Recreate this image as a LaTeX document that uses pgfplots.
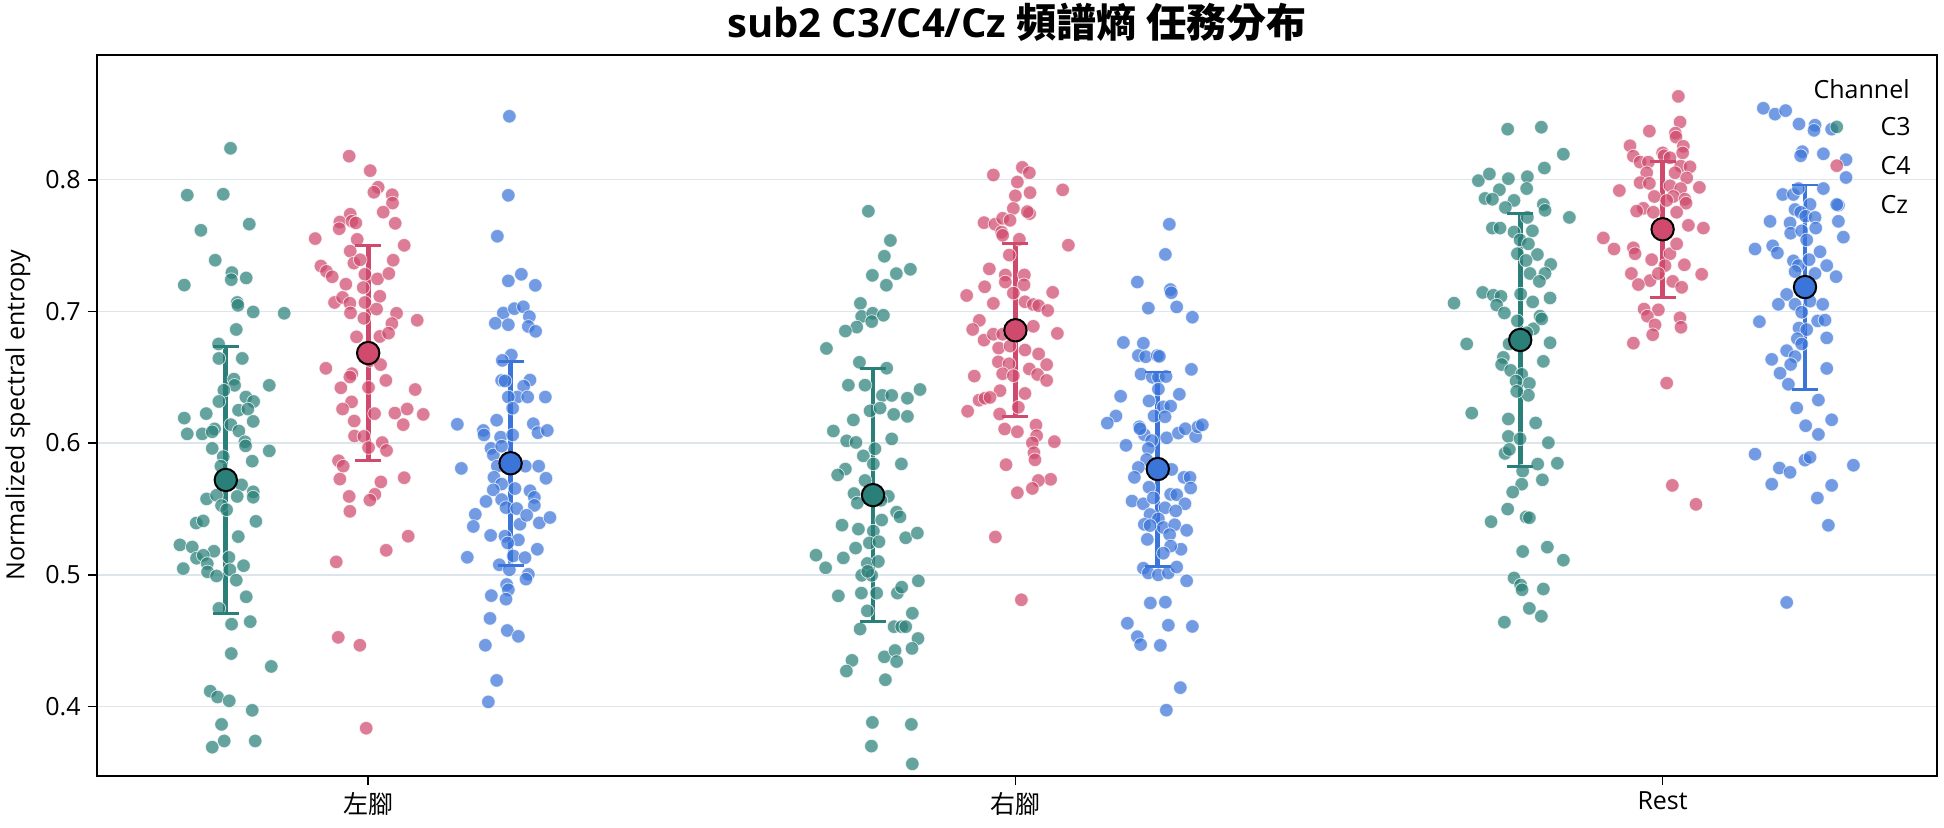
\documentclass[border=0pt]{standalone}
\usepackage{fontspec}
\setmainfont{Open Sans}
\newfontfamily\cjk{Noto Sans CJK TC}
\usepackage{pgfplots}
\pgfplotsset{compat=1.18}
\definecolor{cC3}{HTML}{2A7F78}
\definecolor{cC4}{HTML}{CF4A6D}
\definecolor{cCz}{HTML}{3B75D9}
\definecolor{gridc}{HTML}{DCE4EC}
\newcommand{\fs}{\fontsize{12.5}{15}\selectfont}
\pgfplotsset{
  pts/.style={only marks, mark=*, mark size=3.4pt, forget plot,
    mark options={fill=#1, draw=white, line width=0.4pt, opacity=0.72}},
  bar/.style={#1, line width=2.4pt, forget plot, unbounded coords=jump},
  cap/.style={only marks, mark=-, mark size=6.5pt, forget plot, mark options={draw=#1, line width=1.3pt}},
  mn/.style={only marks, mark=*, mark size=5.6pt, forget plot,
    mark options={fill=#1, draw=black, line width=1pt}},
}
\begin{document}
\begin{tikzpicture}
\begin{axis}[
  name=ax, scale only axis, width=919.9pt, height=360.75pt,
  xmin=-0.4195, xmax=2.4232, ymin=0.3472, ymax=0.8951,
  xtick={0,1,2}, xticklabels={{\cjk 左腳},{\cjk 右腳},Rest},
  ytick={0.4,0.5,0.6,0.7,0.8},
  yticklabel style={/pgf/number format/fixed, /pgf/number format/precision=1, /pgf/number format/assume math mode=true},
  tick label style={font=\fs},
  tick pos=left, tick align=outside, major tick length=4.5pt,
  tick style={black, line width=0.8pt},
  axis line style={black, line width=1pt},
  ymajorgrids, grid style={gridc, line width=0.75pt},
  ylabel={Normalized spectral entropy},
  every axis y label/.style={at={(rel axis cs:0,0.5)}, xshift=-39.35pt, rotate=90, anchor=center, font=\fs},
  legend style={at={(rel axis cs:1,1)}, anchor=north east, xshift=-10.75pt, yshift=-29.5pt,
    draw=none, fill=none, inner sep=0pt, font=\fs, row sep=6.4pt,
    nodes={text height=9pt, text depth=0pt, inner sep=2pt},
    /tikz/every odd column/.append style={column sep=16.5pt}},
  legend cell align=left,
]
% ---- C3 ----
\addplot[pts=cC3] coordinates {
(-0.2127,0.8239) (-0.2796,0.7883) (-0.2240,0.7890) (-0.2585,0.7616) (-0.1838,0.7663) (-0.2364,0.7389) (-0.2842,0.7200) (-0.2106,0.7295) (-0.2116,0.7241) (-0.1885,0.7254) (-0.2024,0.7068) (-0.2013,0.7046) (-0.1777,0.6996) (-0.1298,0.6986) (-0.2039,0.6863) (-0.2312,0.6753) (-0.2307,0.6643) (-0.1946,0.6643) (-0.2075,0.6486) (-0.2065,0.6439) (-0.1529,0.6439) (-0.2230,0.6401) (-0.1890,0.6350) (-0.1771,0.6316) (-0.2307,0.6316) (-0.2003,0.6250) (-0.1859,0.6259) (-0.2503,0.6224) (-0.2842,0.6190) (-0.1777,0.6165) (-0.2122,0.6140) (-0.2796,0.6070) (-0.2564,0.6070) (-0.2374,0.6108) (-0.2410,0.6086) (-0.1998,0.6092) (-0.1905,0.6010) (-0.1895,0.5979) (-0.2410,0.5960) (-0.2240,0.5897) (-0.1529,0.5941) (-0.1792,0.5863) (-0.2276,0.5825) (-0.1957,0.5683) (-0.1777,0.5630) (-0.2497,0.5576) (-0.2343,0.5604) (-0.2266,0.5526) (-0.2024,0.5595) (-0.1777,0.5589) (-0.2188,0.5494) (-0.2657,0.5393) (-0.2549,0.5409) (-0.1735,0.5406) (-0.2008,0.5290) (-0.2909,0.5227) (-0.2719,0.5211) (-0.2384,0.5179) (-0.2652,0.5126) (-0.2549,0.5148) (-0.2152,0.5132) (-0.2487,0.5085) (-0.1926,0.5069) (-0.2858,0.5047) (-0.2482,0.5022) (-0.2343,0.4991) (-0.2137,0.5038) (-0.2039,0.4959) (-0.2307,0.4745) (-0.1885,0.4833) (-0.2111,0.4625) (-0.1823,0.4644) (-0.2116,0.4402) (-0.1498,0.4304) (-0.2441,0.4116) (-0.2327,0.4072) (-0.2147,0.4043) (-0.1792,0.3971) (-0.2266,0.3864) (-0.2225,0.3738) (-0.1746,0.3738) (-0.2410,0.3691)
};
\addplot[pts=cC3] coordinates {
(0.7728,0.7761) (0.8068,0.7539) (0.7975,0.7419) (0.7790,0.7274) (0.8160,0.7287) (0.8377,0.7320) (0.8006,0.7199) (0.7605,0.7061) (0.7625,0.6962) (0.7795,0.6986) (0.7960,0.6971) (0.7780,0.6923) (0.7548,0.6881) (0.7373,0.6851) (0.7080,0.6719) (0.7590,0.6614) (0.8011,0.6569) (0.7419,0.6440) (0.7676,0.6440) (0.8526,0.6407) (0.7945,0.6362) (0.8089,0.6362) (0.8331,0.6341) (0.7754,0.6245) (0.7909,0.6266) (0.8120,0.6218) (0.8331,0.6203) (0.7496,0.6176) (0.7187,0.6092) (0.7393,0.6017) (0.7537,0.6005) (0.7830,0.5957) (0.8089,0.6032) (0.7650,0.5903) (0.7805,0.5842) (0.8238,0.5842) (0.7373,0.5803) (0.7254,0.5758) (0.7676,0.5716) (0.7506,0.5617) (0.7557,0.5545) (0.8036,0.5596) (0.7923,0.5566) (0.8165,0.5476) (0.8217,0.5440) (0.7321,0.5377) (0.7574,0.5347) (0.7805,0.5332) (0.7934,0.5416) (0.8305,0.5281) (0.8485,0.5317) (0.7743,0.5242) (0.7892,0.5251) (0.7531,0.5203) (0.6919,0.5149) (0.7068,0.5053) (0.7341,0.5128) (0.7712,0.5086) (0.7882,0.5101) (0.7625,0.4996) (0.7780,0.4996) (0.7718,0.5026) (0.8500,0.4954) (0.7264,0.4840) (0.7620,0.4861) (0.7856,0.4861) (0.8176,0.4861) (0.8243,0.4906) (0.7712,0.4726) (0.8407,0.4708) (0.7600,0.4588) (0.8125,0.4606) (0.8243,0.4606) (0.8305,0.4606) (0.8495,0.4516) (0.8402,0.4441) (0.7975,0.4377) (0.8140,0.4425) (0.8165,0.4341) (0.7475,0.4350) (0.7388,0.4269) (0.7991,0.4203) (0.7790,0.3879) (0.8392,0.3864) (0.7775,0.3699) (0.8407,0.3564)
};
\addplot[pts=cC3] coordinates {
(1.7606,0.8384) (1.8126,0.8399) (1.8466,0.8194) (1.8173,0.8089) (1.7153,0.7993) (1.7323,0.8044) (1.7617,0.8008) (1.7910,0.8023) (1.7478,0.7924) (1.7900,0.7933) (1.7256,0.7858) (1.7370,0.7852) (1.7704,0.7843) (1.7570,0.7789) (1.8157,0.7813) (1.8183,0.7768) (1.8559,0.7714) (1.7910,0.7714) (1.7370,0.7633) (1.7488,0.7633) (1.7704,0.7603) (1.7988,0.7612) (1.7797,0.7543) (1.7926,0.7513) (1.8065,0.7432) (1.7756,0.7438) (1.7890,0.7387) (1.8271,0.7357) (1.7951,0.7288) (1.8183,0.7288) (1.8096,0.7228) (1.7220,0.7144) (1.7385,0.7123) (1.7503,0.7114) (1.7807,0.7132) (1.7993,0.7072) (1.8261,0.7102) (1.6777,0.7063) (1.7436,0.7048) (1.7555,0.6988) (1.8106,0.6964) (1.8003,0.6868) (1.8132,0.6943) (1.7756,0.6928) (1.7900,0.6838) (1.6973,0.6753) (1.7627,0.6753) (1.8261,0.6762) (1.7539,0.6651) (1.7513,0.6597) (1.8157,0.6621) (1.7653,0.6552) (1.7823,0.6522) (1.7735,0.6471) (1.7941,0.6453) (1.7926,0.6363) (1.7746,0.6393) (1.7051,0.6228) (1.7617,0.6183) (1.8039,0.6153) (1.7617,0.6051) (1.7797,0.6033) (1.8235,0.6003) (1.7565,0.5922) (1.7632,0.5952) (1.8070,0.5841) (1.8374,0.5847) (1.7838,0.5787) (1.8142,0.5721) (1.7823,0.5688) (1.7684,0.5628) (1.7606,0.5499) (1.7890,0.5439) (1.7941,0.5433) (1.7349,0.5403) (1.7838,0.5177) (1.8219,0.5210) (1.8466,0.5111) (1.7704,0.4976) (1.7807,0.4922) (1.7828,0.4886) (1.8157,0.4892) (1.7941,0.4745) (1.8126,0.4685) (1.7555,0.4640)
};
% ---- C4 ----
\addplot[pts=cC4] coordinates {
(-0.0294,0.8179) (0.0031,0.8069) (0.0154,0.7943) (0.0088,0.7905) (0.0371,0.7886) (0.0376,0.7823) (0.0232,0.7754) (0.0417,0.7669) (-0.0278,0.7738) (-0.0438,0.7679) (-0.0448,0.7628) (-0.0252,0.7685) (-0.0191,0.7672) (-0.0819,0.7553) (-0.0170,0.7547) (0.0556,0.7502) (-0.0278,0.7458) (-0.0221,0.7367) (-0.0124,0.7392) (0.0386,0.7389) (-0.0731,0.7345) (-0.0644,0.7304) (-0.0556,0.7263) (-0.0051,0.7282) (0.0144,0.7247) (0.0319,0.7288) (-0.0345,0.7207) (-0.0077,0.7181) (0.0180,0.7115) (-0.0520,0.7068) (-0.0396,0.7106) (-0.0283,0.7062) (-0.0273,0.6989) (-0.0051,0.7068) (0.0129,0.7018) (0.0438,0.6986) (0.0757,0.6933) (0.0366,0.6908) (-0.0067,0.6948) (-0.0180,0.6807) (0.0180,0.6810) (0.0314,0.6835) (-0.0654,0.6568) (-0.0252,0.6527) (-0.0283,0.6502) (0.0026,0.6627) (0.0191,0.6596) (0.0273,0.6476) (0.0726,0.6407) (-0.0422,0.6420) (0.0005,0.6423) (-0.0257,0.6313) (-0.0396,0.6259) (-0.0216,0.6168) (0.0098,0.6224) (0.0412,0.6228) (0.0602,0.6259) (0.0850,0.6218) (0.0541,0.6140) (-0.0211,0.6054) (-0.0067,0.6051) (0.0216,0.6004) (0.0283,0.5944) (0.0005,0.5966) (-0.0458,0.5866) (-0.0386,0.5825) (-0.0438,0.5727) (0.0196,0.5705) (0.0556,0.5737) (-0.0294,0.5595) (0.0103,0.5611) (0.0026,0.5567) (-0.0283,0.5482) (0.0618,0.5293) (0.0278,0.5186) (-0.0494,0.5098) (-0.0463,0.4525) (-0.0129,0.4465) (-0.0031,0.3835)
};
\addplot[pts=cC4] coordinates {
(0.9659,0.8036) (1.0107,0.8094) (1.0215,0.8053) (1.0030,0.7983) (1.0226,0.7902) (1.0730,0.7923) (0.9999,0.7878) (0.9968,0.7782) (1.0220,0.7743) (1.0184,0.7758) (0.9515,0.7674) (0.9685,0.7662) (0.9803,0.7707) (0.9917,0.7692) (0.9788,0.7602) (0.9803,0.7578) (1.0061,0.7548) (1.0818,0.7503) (0.9906,0.7428) (0.9597,0.7323) (0.9844,0.7277) (1.0138,0.7277) (0.9844,0.7223) (1.0133,0.7202) (0.9525,0.7187) (0.9968,0.7139) (1.0576,0.7145) (0.9247,0.7121) (0.9659,0.7061) (1.0148,0.7073) (1.0277,0.7052) (1.0359,0.7043) (1.0499,0.7007) (0.9443,0.6932) (0.9340,0.6863) (0.9515,0.6782) (0.9659,0.6827) (0.9803,0.6827) (0.9917,0.6857) (1.0087,0.6872) (1.0277,0.6887) (1.0648,0.6833) (0.9741,0.6722) (0.9917,0.6737) (1.0148,0.6707) (1.0359,0.6677) (1.0483,0.6596) (0.9736,0.6617) (0.9901,0.6602) (1.0215,0.6563) (0.9365,0.6509) (0.9803,0.6527) (0.9968,0.6512) (1.0343,0.6521) (1.0483,0.6476) (0.9762,0.6398) (1.0148,0.6377) (0.9438,0.6326) (0.9530,0.6341) (0.9608,0.6347) (0.9262,0.6242) (0.9757,0.6221) (1.0045,0.6272) (1.0318,0.6137) (0.9834,0.6107) (1.0030,0.6086) (1.0328,0.6056) (1.0602,0.6011) (1.0262,0.6002) (1.0287,0.5927) (1.0302,0.5873) (0.9855,0.5836) (1.0544,0.5725) (1.0354,0.5716) (1.0262,0.5656) (1.0030,0.5623) (0.9690,0.5287) (1.0092,0.4810)
};
\addplot[pts=cC4] coordinates {
(2.0243,0.8633) (2.0269,0.8438) (1.9795,0.8369) (2.0197,0.8354) (2.0207,0.8324) (1.9496,0.8258) (2.0320,0.8254) (2.0310,0.8204) (2.0001,0.8204) (1.9548,0.8179) (1.9651,0.8134) (1.9780,0.8134) (2.0022,0.8182) (2.0114,0.8167) (2.0279,0.8104) (2.0423,0.8098) (1.9754,0.8053) (2.0192,0.8053) (2.0372,0.8014) (1.9651,0.7978) (1.9795,0.7972) (2.0114,0.7954) (2.0279,0.7933) (2.0568,0.7942) (1.9331,0.7918) (1.9872,0.7873) (2.0166,0.7873) (2.0346,0.7852) (2.0063,0.7843) (2.0362,0.7822) (1.9702,0.7783) (1.9599,0.7762) (1.9857,0.7753) (2.0217,0.7753) (2.0398,0.7654) (2.0630,0.7633) (1.9084,0.7558) (1.9249,0.7474) (1.9548,0.7483) (1.9574,0.7438) (1.9831,0.7393) (2.0114,0.7438) (2.0217,0.7513) (2.0037,0.7348) (2.0336,0.7354) (2.0604,0.7282) (1.9517,0.7288) (1.9805,0.7234) (1.9625,0.7204) (2.0156,0.7228) (2.0295,0.7183) (1.9934,0.7288) (1.9713,0.7018) (1.9934,0.7012) (1.9764,0.6964) (2.0269,0.6952) (1.9883,0.6898) (2.0284,0.6880) (1.9847,0.6823) (1.9548,0.6759) (2.0063,0.6456) (2.0150,0.5679) (2.0516,0.5535)
};
% ---- Cz ----
\addplot[pts=cCz] coordinates {
(0.2181,0.8482) (0.2165,0.7882) (0.1995,0.7571) (0.2165,0.7232) (0.2366,0.7282) (0.2582,0.7198) (0.2088,0.6988) (0.2258,0.7021) (0.2397,0.7035) (0.2490,0.6960) (0.1964,0.6910) (0.2165,0.6899) (0.2474,0.6886) (0.2587,0.6849) (0.2211,0.6669) (0.2072,0.6628) (0.2062,0.6476) (0.2113,0.6472) (0.2500,0.6479) (0.2402,0.6432) (0.2304,0.6350) (0.2165,0.6350) (0.2464,0.6350) (0.2737,0.6350) (0.2232,0.6265) (0.1985,0.6174) (0.2551,0.6147) (0.1377,0.6143) (0.1779,0.6096) (0.1789,0.6062) (0.2046,0.6045) (0.2232,0.6062) (0.2623,0.6079) (0.2767,0.6096) (0.1897,0.5960) (0.1933,0.5910) (0.2062,0.5977) (0.1439,0.5808) (0.1995,0.5825) (0.2428,0.5825) (0.2634,0.5825) (0.2747,0.5733) (0.1943,0.5740) (0.2062,0.5689) (0.2268,0.5655) (0.1933,0.5645) (0.2500,0.5638) (0.2567,0.5588) (0.1820,0.5557) (0.2062,0.5571) (0.2129,0.5510) (0.2294,0.5503) (0.2567,0.5527) (0.1655,0.5459) (0.1624,0.5367) (0.2345,0.5384) (0.2448,0.5452) (0.2644,0.5394) (0.2809,0.5435) (0.1892,0.5299) (0.2113,0.5293) (0.2320,0.5265) (0.2155,0.5242) (0.2613,0.5194) (0.1531,0.5133) (0.2242,0.5143) (0.2423,0.5130) (0.2026,0.5076) (0.2181,0.5038) (0.2474,0.5004) (0.2438,0.4967) (0.2139,0.4926) (0.2165,0.4886) (0.1902,0.4842) (0.2129,0.4815) (0.1882,0.4669) (0.2149,0.4577) (0.2320,0.4533) (0.1810,0.4465) (0.1985,0.4198) (0.1856,0.4035)
};
\addplot[pts=cCz] coordinates {
(1.2378,0.7662) (1.2317,0.7433) (1.1884,0.7223) (1.2394,0.7166) (1.2409,0.7142) (1.2054,0.7025) (1.2492,0.7034) (1.2734,0.6956) (1.1668,0.6764) (1.1977,0.6758) (1.1900,0.6665) (1.2013,0.6656) (1.2193,0.6665) (1.2224,0.6659) (1.2719,0.6560) (1.1941,0.6524) (1.2116,0.6500) (1.2209,0.6500) (1.2327,0.6506) (1.2209,0.6410) (1.2533,0.6371) (1.1626,0.6356) (1.2064,0.6320) (1.2286,0.6275) (1.2399,0.6281) (1.2142,0.6206) (1.2312,0.6200) (1.1554,0.6206) (1.1420,0.6152) (1.1915,0.6124) (1.1992,0.6064) (1.1925,0.6109) (1.2106,0.6019) (1.2337,0.6040) (1.2518,0.6076) (1.2626,0.6109) (1.2785,0.6049) (1.2821,0.6124) (1.2888,0.6139) (1.1709,0.5983) (1.2054,0.5959) (1.2028,0.5875) (1.1900,0.5815) (1.2415,0.5800) (1.1838,0.5740) (1.2064,0.5665) (1.2605,0.5740) (1.2698,0.5740) (1.2708,0.5659) (1.1802,0.5560) (1.1977,0.5539) (1.2131,0.5584) (1.2399,0.5611) (1.2492,0.5608) (1.2312,0.5509) (1.2620,0.5539) (1.2477,0.5485) (1.2080,0.5458) (1.2209,0.5425) (1.1992,0.5383) (1.2080,0.5374) (1.2286,0.5359) (1.2461,0.5380) (1.2646,0.5338) (1.2038,0.5269) (1.2383,0.5305) (1.2559,0.5194) (1.2399,0.5218) (1.2286,0.5164) (1.1977,0.5050) (1.2054,0.5014) (1.2209,0.4999) (1.2363,0.5014) (1.2492,0.5059) (1.2646,0.4954) (1.2085,0.4786) (1.2317,0.4792) (1.1730,0.4632) (1.2363,0.4617) (1.2734,0.4608) (1.1884,0.4530) (1.1935,0.4470) (1.2239,0.4464) (1.2548,0.4143) (1.2332,0.3972)
};
\addplot[pts=cCz] coordinates {
(2.1556,0.8543) (2.1737,0.8498) (2.1901,0.8525) (2.2107,0.8423) (2.2355,0.8414) (2.2339,0.8375) (2.2612,0.8384) (2.2159,0.8213) (2.2133,0.8182) (2.2484,0.8197) (2.2834,0.8152) (2.2834,0.8017) (2.1856,0.7888) (2.2021,0.7888) (2.2098,0.7933) (2.2484,0.7933) (2.2278,0.7813) (2.2716,0.7807) (2.2046,0.7774) (2.2133,0.7753) (2.2210,0.7723) (2.2355,0.7714) (2.1660,0.7684) (2.1969,0.7672) (2.2366,0.7633) (2.2716,0.7684) (2.1979,0.7594) (2.2149,0.7612) (2.2226,0.7543) (2.2793,0.7564) (2.1428,0.7474) (2.1701,0.7498) (2.1773,0.7444) (2.2432,0.7453) (2.2021,0.7384) (2.2098,0.7348) (2.2263,0.7393) (2.2536,0.7348) (2.2355,0.7288) (2.2680,0.7264) (2.2046,0.7303) (2.1917,0.7129) (2.1789,0.7054) (2.2046,0.7054) (2.2278,0.7078) (2.2474,0.7054) (2.2149,0.6994) (2.2396,0.6928) (2.2509,0.6934) (2.1495,0.6922) (2.2107,0.6874) (2.2226,0.6862) (2.2082,0.6793) (2.2536,0.6799) (2.2149,0.6753) (2.1917,0.6702) (2.1686,0.6636) (2.2046,0.6657) (2.1979,0.6597) (2.2536,0.6567) (2.1814,0.6531) (2.1943,0.6447) (2.2407,0.6327) (2.2072,0.6267) (2.2612,0.6177) (2.2210,0.6132) (2.2407,0.6066) (2.1428,0.5916) (2.2200,0.5871) (2.2278,0.5892) (2.2948,0.5832) (2.1804,0.5811) (2.1969,0.5778) (2.1686,0.5688) (2.2612,0.5679) (2.2391,0.5583) (2.2561,0.5376) (2.1917,0.4790)
};
% ---- mean +- sd: bars, caps, means ----
\addplot[bar=cC3] coordinates {(-0.22,0.4707) (-0.22,0.6733) (0,nan) (0.78,0.4644) (0.78,0.6566) (0,nan) (1.78,0.5823) (1.78,0.7743)};
\addplot[bar=cC4] coordinates {(0,0.5866) (0,0.7502) (0,nan) (1,0.6200) (1,0.7514) (0,nan) (2,0.7108) (2,0.8140)};
\addplot[bar=cCz] coordinates {(0.22,0.5072) (0.22,0.6622) (0,nan) (1.22,0.5065) (1.22,0.6541) (0,nan) (2.22,0.6409) (2.22,0.7961)};
\addplot[cap=cC3] coordinates {(-0.22,0.4707) (-0.22,0.6733) (0.78,0.4644) (0.78,0.6566) (1.78,0.5823) (1.78,0.7743)};
\addplot[cap=cC4] coordinates {(0,0.5866) (0,0.7502) (1,0.6200) (1,0.7514) (2,0.7108) (2,0.8140)};
\addplot[cap=cCz] coordinates {(0.22,0.5072) (0.22,0.6622) (1.22,0.5065) (1.22,0.6541) (2.22,0.6409) (2.22,0.7961)};
\addplot[mn=cC3] coordinates {(-0.22,0.5720) (0.78,0.5605) (1.78,0.6783)};
\addplot[mn=cC4] coordinates {(0,0.6684) (1,0.6857) (2,0.7624)};
\addplot[mn=cCz] coordinates {(0.22,0.5847) (1.22,0.5803) (2.22,0.7185)};
% ---- legend ----
\addlegendimage{only marks, mark=*, mark size=3.4pt, mark options={fill=cC3, draw=white, line width=0.4pt, opacity=0.72}}
\addlegendentry{C3}
\addlegendimage{only marks, mark=*, mark size=3.4pt, mark options={fill=cC4, draw=white, line width=0.4pt, opacity=0.72}}
\addlegendentry{C4}
\addlegendimage{only marks, mark=*, mark size=3.4pt, mark options={fill=cCz, draw=white, line width=0.4pt, opacity=0.72}}
\addlegendentry{Cz}
\end{axis}
\node[anchor=base east, inner sep=0pt, font=\fs] at (906.65pt,338.8pt) {Channel};
\node[anchor=base, inner sep=0pt, font=\fontsize{20}{24}\selectfont\bfseries] at (459.95pt,369.15pt) {sub2 C3/C4/Cz {\cjk 頻譜熵 任務分布}};
\pgfresetboundingbox
\path[use as bounding box] (-48.35pt,-25.5pt) rectangle (923.65pt,388pt);
\end{tikzpicture}
\end{document}
